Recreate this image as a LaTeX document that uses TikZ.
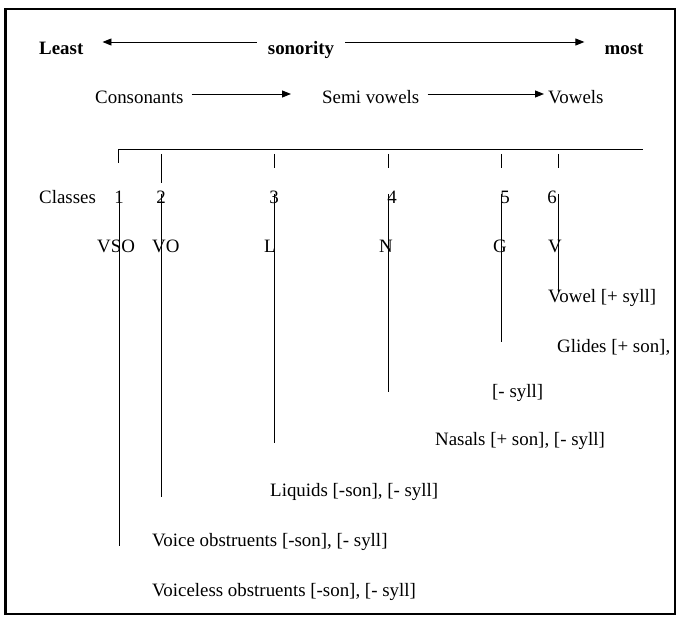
\documentclass[tikz,border=0pt]{standalone}
\usepackage{fontspec}
\setmainfont{Liberation Serif}
\usetikzlibrary{arrows.meta,calc}
\begin{document}
\begin{tikzpicture}[x=1pt,y=-1pt,
  lbl/.style={inner sep=0pt, anchor=base west, font=\fontsize{18.9}{22}\selectfont},
  ctr/.style={lbl, anchor=base},
  hdr/.style={lbl, font=\fontsize{18.9}{22}\selectfont\bfseries},
  rule/.style={line width=0.95pt, black},
  arr/.style={rule, -{Triangle[length=9pt,width=7pt]}},
]
\useasboundingbox (0,0) rectangle (680,617);
% outer frame, heavier on the left
\draw[line width=1.6pt] (5,9) rectangle (675,614);
\draw[line width=3pt] (5,8.2) -- (5,614.8);

% sonority scale
\node[hdr] (least) at (39,55) {Least};
\node[hdr, anchor=base] (sonority) at (301,55) {sonority};
\node[hdr, anchor=base] (most) at (624,55) {most};
\coordinate (r1) at (0,42);
\draw[arr, shorten <=11pt, shorten >=19pt] (sonority.west |- r1) -- (least.east |- r1);
\draw[arr, shorten <=11pt, shorten >=20pt] (sonority.east |- r1) -- (most.west |- r1);

% broad classes
\node[lbl] (cons) at (95,104) {Consonants};
\node[lbl] (semi) at (322,104) {Semi vowels};
\node[lbl] (vowels) at (548,104) {Vowels};
\coordinate (r2) at (0,94);
\draw[arr, shorten <=8pt, shorten >=31pt] (cons.east |- r2) -- (semi.west |- r2);
\draw[arr, shorten <=8pt, shorten >=4pt] (semi.east |- r2) -- (vowels.west |- r2);

% bracket over the six classes
\coordinate (bl) at (118,163);
\coordinate (bc) at (118,149);
\coordinate (br) at (643,149);
\draw[rule] (bl) -- (bc) -- (br);
\foreach \i/\x/\b in {2/161/183, 3/274/168, 4/388/168, 5/501/168, 6/558/168} {
  \coordinate (ta\i) at (\x,154);
  \coordinate (tb\i) at (\x,\b);
  \draw[rule] (ta\i) -- (tb\i);
}

% class numbers and abbreviations
\node[lbl] (classes) at (39,204) {Classes};
\node[ctr] (n1) at (119,204) {1};
\node[ctr] (n2) at (161,204) {2};
\node[ctr] (n3) at (274,204) {3};
\node[ctr] (n4) at (392,204) {4};
\node[ctr] (n5) at (505,204) {5};
\node[ctr] (n6) at (552,204) {6};

\node[lbl] (vso) at (97,253) {VSO};
\node[lbl] (vo) at (152,253) {VO};
\node[ctr] (l) at (270,253) {L};
\node[ctr] (n) at (386,253) {N};
\node[ctr] (g) at (500,253) {G};
\node[ctr] (v) at (555,253) {V};

% descriptions
\node[lbl] (dv) at (548,303) {Vowel [+ syll]};
\node[lbl] (dg) at (557,353) {Glides [+ son],};
\node[lbl] (dg2) at (492,398) {[- syll]};
\node[lbl] (dn) at (435,446) {Nasals [+ son], [- syll]};
\node[lbl] (dl) at (270,496) {Liquids [-son], [- syll]};
\node[lbl] (dvo) at (152,546) {Voice obstruents [-son], [- syll]};
\node[lbl] (dvl) at (152,596) {Voiceless obstruents [-son], [- syll]};

% stems from each class down to its description
\foreach \i/\x/\b in {1/119/546, 2/161/497, 3/274/443, 4/388/392, 5/501/342, 6/558/292} {
  \coordinate (st\i) at (\x,194);
  \coordinate (sb\i) at (\x,\b);
  \draw[rule] (st\i) -- (sb\i);
}
\end{tikzpicture}
\end{document}
